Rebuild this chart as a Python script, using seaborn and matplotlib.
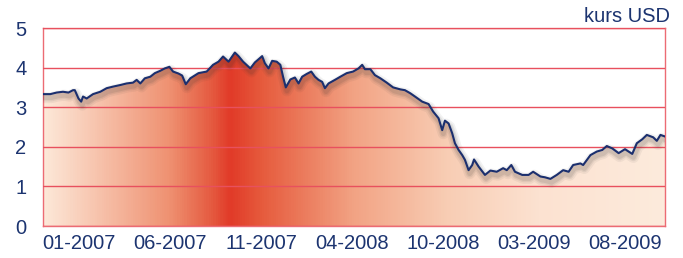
import matplotlib as mpl
from matplotlib import pyplot as plt
from matplotlib import patheffects as pe
from matplotlib.colors import LinearSegmentedColormap
from matplotlib.patches import PathPatch
import numpy as np
import seaborn as sns

sns.set_theme(style="white")
plt.rcParams['font.family'] = ['Liberation Sans', 'DejaVu Sans']

# Session number (trading day) and rate
sessions = [0, 8, 15, 22, 28, 33, 35, 39, 42, 44, 48, 55, 63, 70, 77, 85, 92, 99,
            103, 107, 112, 118, 123, 129, 134, 139, 143, 149, 153, 157, 162, 171,
            180, 187, 193, 198, 204, 211, 215, 220, 228, 233, 241, 244, 248, 252,
            257, 261, 264, 267, 272, 277, 281, 285, 290, 295, 299, 303, 307, 310,
            314, 321, 327, 334, 341, 347, 351, 354, 360, 365, 371, 378, 385, 393,
            398, 404, 409, 417, 424, 429, 435, 439, 442, 446, 450, 453, 457, 461,
            464, 468, 472, 474, 479, 486, 492, 499, 506, 510, 515, 519, 527, 534,
            539, 547, 552, 558, 565, 572, 578, 583, 591, 594, 602, 609, 615, 620,
            626, 633, 640, 648, 653, 659, 664, 671, 675, 679, 684]
kurs = [3.33, 3.33, 3.37, 3.39, 3.37, 3.43, 3.43, 3.22, 3.14, 3.27, 3.22, 3.33,
        3.39, 3.48, 3.52, 3.56, 3.60, 3.62, 3.69, 3.60, 3.73, 3.77, 3.86, 3.92,
        3.98, 4.02, 3.90, 3.85, 3.80, 3.58, 3.73, 3.86, 3.90, 4.07, 4.15, 4.28,
        4.15, 4.38, 4.29, 4.15, 3.98, 4.13, 4.29, 4.11, 3.98, 4.17, 4.15, 4.07,
        3.77, 3.50, 3.70, 3.75, 3.60, 3.77, 3.84, 3.90, 3.77, 3.69, 3.64, 3.48,
        3.60, 3.69, 3.77, 3.86, 3.90, 3.98, 4.07, 3.96, 3.96, 3.81, 3.73, 3.62,
        3.50, 3.45, 3.43, 3.35, 3.27, 3.14, 3.08, 2.89, 2.72, 2.42, 2.66, 2.59,
        2.34, 2.09, 1.92, 1.79, 1.67, 1.41, 1.54, 1.68, 1.50, 1.29, 1.40, 1.37,
        1.46, 1.41, 1.54, 1.37, 1.29, 1.29, 1.37, 1.25, 1.23, 1.19, 1.29, 1.41,
        1.37, 1.54, 1.58, 1.54, 1.79, 1.88, 1.92, 2.02, 1.96, 1.84, 1.94, 1.82,
        2.09, 2.19, 2.30, 2.24, 2.15, 2.30, 2.26]

tick_pos = [40, 140, 240, 340, 440, 540, 640]
tick_labels = ['01-2007', '06-2007', '11-2007', '04-2008', '10-2008', '03-2009', '08-2009']
y_ticks = [0, 1, 2, 3, 4, 5]

TEXT = '#1c3470'
GRID = '#e8505e'
LINE = '#1b2f6e'

fig = plt.figure(figsize=(6.83, 2.58), dpi=100)
axes = fig.add_axes([43 / 683, 32 / 258, 622 / 683, 198 / 258])

# Gradient fill under the line
grad_cmap = LinearSegmentedColormap.from_list('grad', [
    (0.0, '#fde8d8'), (0.2, '#ef9272'), (0.27, '#e55a40'), (0.30, '#e13a28'),
    (0.35, '#e65a3c'), (0.5, '#f2a384'), (0.65, '#f8cdb4'), (0.8, '#fce2d1'),
    (1.0, '#fdebdc')])
poly = axes.fill_between(sessions, kurs, 0, color='none')
clip = PathPatch(poly.get_paths()[0], transform=axes.transData, facecolor='none', edgecolor='none')
axes.add_patch(clip)
grad = np.linspace(0, 1, 600).reshape(1, -1)
img = axes.imshow(grad, extent=[0, 684, 0, 5], aspect='auto', cmap=grad_cmap, zorder=1)
img.set_clip_path(clip)

# Line with a soft, blurred-looking shadow (a few wide faint strokes)
shadow = [pe.SimpleLineShadow(offset=(0.8, -2.5), shadow_color='#303030', alpha=a, linewidth=w)
          for w, a in [(8, 0.06), (5.5, 0.08), (3.5, 0.10)]]
sns.lineplot(x=sessions, y=kurs, ax=axes, color=LINE, linewidth=1.5, zorder=4,
             path_effects=shadow + [pe.Normal()])

axes.set_xlim(0, 684)
axes.set_ylim(0, 5)
axes.set_xticks(tick_pos)
axes.set_xticklabels(tick_labels)
axes.set_yticks(y_ticks)
axes.tick_params(axis='both', length=0, labelsize=14.5, colors=TEXT)
axes.tick_params(axis='y', pad=12)
axes.tick_params(axis='x', pad=6)

axes.set_axisbelow(False)
axes.grid(axis='y', color=GRID, linewidth=1, zorder=2)
for spine in axes.spines.values():
    spine.set_color('#ec6b74')
    spine.set_linewidth(1)

fig.text(670 / 683, 1 - 17 / 258, 'kurs USD', ha='right', va='center', fontsize=14.5, color=TEXT)

fig.savefig('out.png', dpi=100)
